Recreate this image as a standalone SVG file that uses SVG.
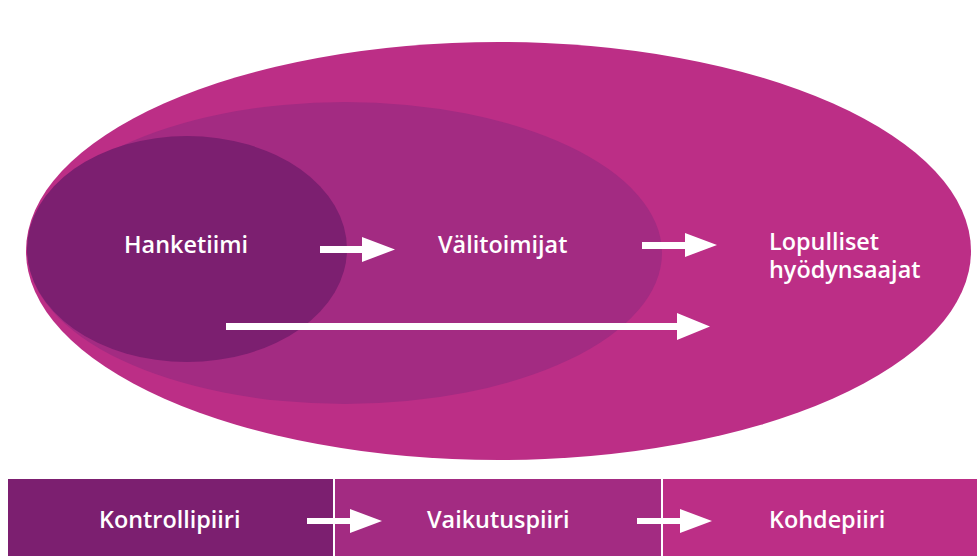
<svg xmlns="http://www.w3.org/2000/svg" width="977" height="556" viewBox="0 0 977 556">
<defs>
<style>
.lbl{font-family:"Open Sans","Liberation Sans",sans-serif;font-weight:600;font-size:23.4px;fill:#ffffff}
.arr{fill:#ffffff}
</style>
</defs>
<rect width="977" height="556" fill="#ffffff"/>
<g id="outer"><ellipse cx="498.5" cy="251" rx="472.5" ry="209" fill="#bc2e86"/></g>
<g id="middle"><ellipse cx="345" cy="253" rx="317" ry="151" fill="#a32b82"/></g>
<g id="inner"><ellipse cx="187" cy="249" rx="160" ry="113" fill="#7c1f70"/></g>
<g id="bar1"><rect x="8" y="479" width="325" height="77" fill="#7c1f70"/><text class="lbl" x="99" y="528">Kontrollipiiri</text></g>
<g id="bar2"><rect x="335" y="479" width="326" height="77" fill="#a32b82"/><text class="lbl" x="427" y="528">Vaikutuspiiri</text></g>
<g id="bar3"><rect x="663" y="479" width="314" height="77" fill="#bc2e86"/><text class="lbl" x="769" y="528">Kohdepiiri</text></g>
<g id="n-hanketiimi"><text class="lbl" x="124" y="253">Hanketiimi</text></g>
<g id="n-valitoimijat"><text class="lbl" x="438" y="253">Välitoimijat</text></g>
<g id="n-lopulliset"><text class="lbl" x="769" y="250"><tspan x="769" y="250">Lopulliset</tspan><tspan x="769" y="278">hyödynsaajat</tspan></text></g>
<g id="connectors">
<path class="arr" d="M320 246 H362 V237 L395 249.5 L362 262 V253 H320 Z"/>
<path class="arr" d="M642 242 H685 V233 L717 245 L685 257 V249 H642 Z"/>
<path class="arr" d="M226 323 H677 V313 L710 326.5 L677 340 V330 H226 Z"/>
<path class="arr" d="M307 518 H350 V509 L382 521 L350 533 V524 H307 Z"/>
<path class="arr" d="M637 518 H680 V509 L712 521 L680 533 V524 H637 Z"/>
</g>
</svg>
